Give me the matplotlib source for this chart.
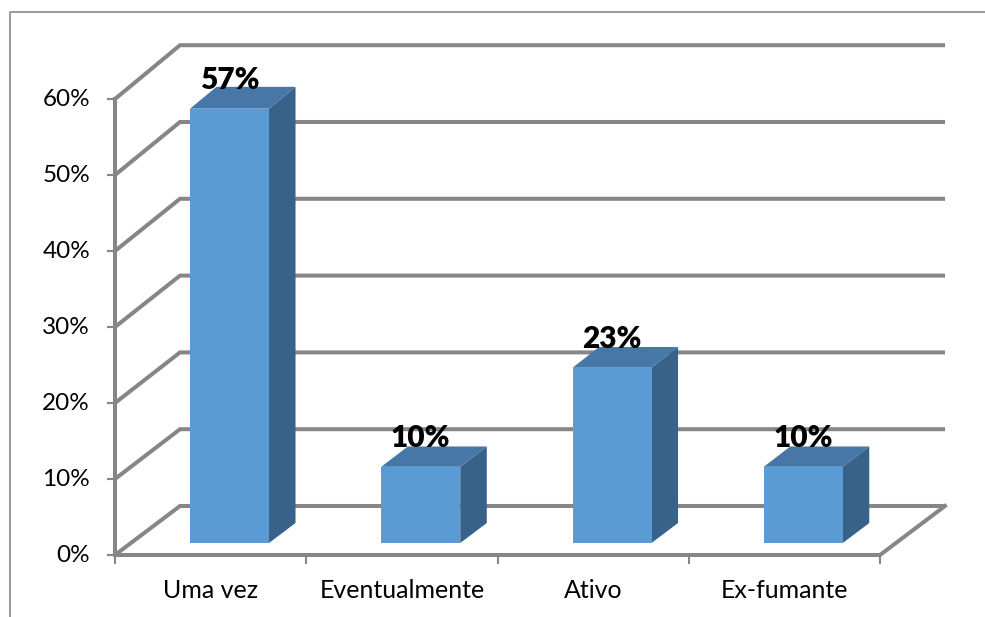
import matplotlib
matplotlib.use("Agg")
import matplotlib.pyplot as plt
from matplotlib.patches import Polygon

categories = ["Uma vez", "Eventualmente", "Ativo", "Ex-fumante"]
values = [0.57, 0.10, 0.23, 0.10]
bar_labels = ["57%", "10%", "23%", "10%"]
y_ticks = [0.0, 0.1, 0.2, 0.3, 0.4, 0.5, 0.6]
y_tick_labels = ["0%", "10%", "20%", "30%", "40%", "50%", "60%"]

# oblique "3d" frame, pixel units
X0, X1 = 115, 880          # front floor edge
Y0 = 555                   # front 0% line
DX, DY = 65, 49            # full depth offset
SLOT = (X1 - X0) / len(categories)
BAR_L, BAR_R = 0.309, 0.722   # bar position within a slot
D_FRONT, D_BACK = 0.245, 0.653

GRID = "#868686"
FRONT = "#5B9BD5"
TOP = "#4677A6"
SIDE = "#386289"


def scale(d):
    # excel's 3d view is slightly perspective: back wall a bit taller
    return 760 + 8 * d


def P(xf, v, d):
    return (xf + d * DX, Y0 - v * scale(d) - d * DY)


plt.rcParams["font.family"] = ["Lato", "DejaVu Sans"]
fig = plt.figure(figsize=(9.85, 6.17), dpi=100)
ax = fig.add_axes([0, 0, 1, 1])
ax.set_xlim(0, 985)
ax.set_ylim(617, 0)
ax.axis("off")

# chart border
ax.plot([10, 10, 985], [617, 12, 12], color="#9a9a9a", lw=1.4, zorder=0)

lw = 2.9
# walls
for v in y_ticks:
    a, b, c = P(X0, v, 0), P(X0, v, 1), P(X1, v, 1)
    ax.plot([a[0], b[0], c[0]], [a[1], b[1], c[1]], color=GRID, lw=lw,
            solid_capstyle="butt", solid_joinstyle="miter", zorder=1)
# left axis and floor
a, b = P(X0, 0, 0), P(X0, y_ticks[-1], 0)
ax.plot([a[0], b[0]], [a[1], b[1]], color=GRID, lw=lw, zorder=1)
a, b, c = P(X0, 0, 0), P(X1, 0, 0), P(X1, 0, 1)
ax.plot([a[0], b[0], c[0]], [a[1], b[1], c[1]], color=GRID, lw=lw,
        solid_joinstyle="miter", zorder=1)

# ticks
for v, lab in zip(y_ticks, y_tick_labels):
    x, y = P(X0, v, 0)
    ax.plot([x - 7, x], [y, y], color=GRID, lw=1.5, zorder=1)
    ax.text(x - 25, y, lab, ha="right", va="center", fontsize=17.5, color="black")
for i in range(len(categories) + 1):
    x, y = P(X0 + i * SLOT, 0, 0)
    ax.plot([x, x], [y, y + 8], color=GRID, lw=1.5, zorder=1)

# bars
for i, (v, lab, cat) in enumerate(zip(values, bar_labels, categories)):
    xl = X0 + (i + BAR_L) * SLOT
    xr = X0 + (i + BAR_R) * SLOT
    front = [P(xl, 0, D_FRONT), P(xr, 0, D_FRONT), P(xr, v, D_FRONT), P(xl, v, D_FRONT)]
    top = [P(xl, v, D_FRONT), P(xr, v, D_FRONT), P(xr, v, D_BACK), P(xl, v, D_BACK)]
    side = [P(xr, 0, D_FRONT), P(xr, v, D_FRONT), P(xr, v, D_BACK), P(xr, 0, D_BACK)]
    ax.add_patch(Polygon(side, closed=True, facecolor=SIDE, edgecolor="none", zorder=2))
    ax.add_patch(Polygon(top, closed=True, facecolor=TOP, edgecolor="none", zorder=2))
    ax.add_patch(Polygon(front, closed=True, facecolor=FRONT, edgecolor="none", zorder=2))
    tx, ty = P((xl + xr) / 2, v, D_FRONT)
    ax.text(tx, ty - 29, lab, ha="center", va="center", fontsize=21.5,
            fontweight="heavy", color="black", zorder=3)
    cx, cy = P(X0 + (i + 0.5) * SLOT, 0, 0)
    ax.text(cx, cy + 35, cat, ha="center", va="center", fontsize=18, color="black")

fig.savefig("out.png", dpi=100)
